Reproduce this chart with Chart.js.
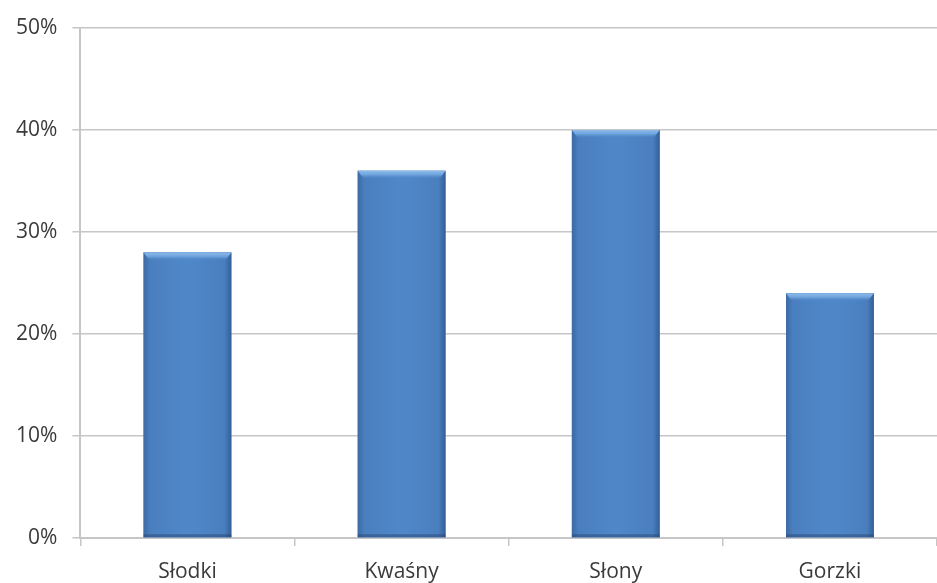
<!DOCTYPE html>
<html>
<head>
<meta charset="utf-8">
<script src="https://cdn.jsdelivr.net/npm/chart.js@4"></script>
<style>
  html, body { margin: 0; padding: 0; background: #fff; }
  #wrap { width: 937px; height: 583px; }
</style>
</head>
<body>
<div id="wrap"><canvas id="tasteChart"></canvas></div>
<script>
// data
const categories = ["Słodki", "Kwaśny", "Słony", "Gorzki"];
const shares = [28, 36, 40, 24];
const yTicks = [0, 10, 20, 30, 40, 50];

// shade each bar like the office-style bevel
const bevelPlugin = {
    id: "bevel",
    afterDatasetsDraw(chart) {
        const c = chart.ctx;
        chart.getDatasetMeta(0).data.forEach(function (bar) {
            const left = bar.x - bar.width / 2;
            const w = bar.width;
            const top = bar.y;
            const h = bar.base - bar.y;
            c.save();
            const g = c.createLinearGradient(left, 0, left + w, 0);
            g.addColorStop(0, "#3d6aa3");
            g.addColorStop(0.08, "#4a7fbf");
            g.addColorStop(0.5, "#4f88c9");
            g.addColorStop(0.92, "#4a7fbf");
            g.addColorStop(1, "#345f96");
            c.fillStyle = g;
            c.fillRect(left, top, w, h);
            // top highlight
            const t = c.createLinearGradient(0, top, 0, top + 8);
            t.addColorStop(0, "#8dbbea");
            t.addColorStop(0.5, "#6ea3dc");
            t.addColorStop(1, "rgba(79,136,201,0)");
            c.fillStyle = t;
            c.beginPath();
            c.moveTo(left, top);
            c.lineTo(left + w, top);
            c.lineTo(left + w - 6, top + 8);
            c.lineTo(left + 6, top + 8);
            c.closePath();
            c.fill();
            // dark bottom edge
            c.fillStyle = "rgba(40,70,115,0.5)";
            c.fillRect(left, bar.base - 3, w, 3);
            c.restore();
        });
    }
};

const ctx = document.getElementById("tasteChart").getContext("2d");

new Chart(ctx, {
    type: "bar",
    data: {
        labels: categories,
        datasets: [{
            data: shares,
            backgroundColor: "#4a7fbf",
            borderWidth: 0,
            categoryPercentage: 0.82,
            barPercentage: 0.5
        }]
    },
    plugins: [bevelPlugin],
    options: {
        responsive: true,
        maintainAspectRatio: false,
        animation: false,
        layout: { padding: { top: 28, right: 0, left: 1, bottom: 0 } },
        plugins: {
            legend: { display: false },
            tooltip: { enabled: false }
        },
        scales: {
            y: {
                min: 0,
                max: 50,
                afterBuildTicks: function (axis) {
                    axis.ticks = yTicks.map(v => ({ value: v }));
                },
                ticks: {
                    callback: v => v + "%",
                    color: "#3a3a3a",
                    font: { family: "Open Sans", size: 21 },
                    padding: 15
                },
                grid: {
                    color: "#c6c6c6",
                    lineWidth: 1.5,
                    tickLength: 8
                },
                border: { color: "#c6c6c6", width: 2 }
            },
            x: {
                afterFit: function (axis) {
                    axis.height = 45;
                },
                ticks: {
                    color: "#3a3a3a",
                    font: { family: "Open Sans", size: 21 },
                    padding: 13
                },
                grid: {
                    drawOnChartArea: false,
                    color: "#c6c6c6",
                    lineWidth: 1.5,
                    tickLength: 8
                },
                border: { color: "#c6c6c6", width: 2 }
            }
        }
    }
});
</script>
</body>
</html>
